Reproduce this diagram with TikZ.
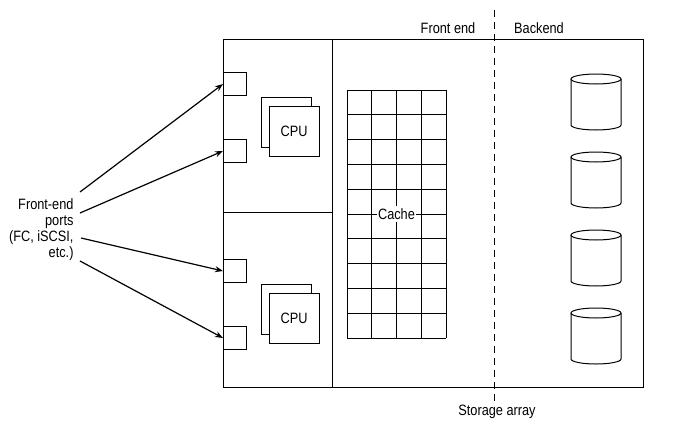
\documentclass[tikz,border=0pt]{standalone}
\usepackage{fontspec}
\setmainfont[FakeStretch=0.85]{Liberation Sans}
\usetikzlibrary{arrows.meta}

\tikzset{
	lbl/.style={inner sep=0,font=\fontsize{15}{17}\selectfont},
	port/.style={draw,inner sep=0,minimum size=23pt},
	cpu/.style={draw,fill=white,inner sep=0,minimum width=50pt,minimum height=50pt},
	arr/.style={-{Stealth[length=8pt,width=6pt]},line width=1.2pt}
}

\begin{document}
\begin{tikzpicture}[x=1pt,y=-1pt,line width=1pt]
	\useasboundingbox (0,0) rectangle (674,431);
	% storage array
	\draw (223,39) rectangle (643,387);
	\draw (332,39) -- (332,387);
	\draw (223,212) -- (332,212);
	\draw[dash pattern=on 7pt off 5pt] (494,10) -- (494,406);
	\node[lbl] (fe) at (448,28) {Front end};
	\node[lbl] (be) at (539,28) {Backend};
	\node[lbl] (sa) at (497,412) {Storage array};
	% ports
	\node[port] (p1) at (235,84) {};
	\node[port] (p2) at (235,151) {};
	\node[port] (p3) at (235,271) {};
	\node[port] (p4) at (235,338) {};
	% cpus
	\node[cpu] (c1b) at (286,122) {};
	\node[cpu] (c1) at (294,131) {\fontsize{15}{17}\selectfont CPU};
	\node[cpu] (c2b) at (286,309) {};
	\node[cpu] (c2) at (294,318) {\fontsize{15}{17}\selectfont CPU};
	% cache
	\foreach \i in {0,...,4}
		\draw (347+24.75*\i,90) -- (347+24.75*\i,338);
	\foreach \j in {0,...,10}
		\draw (347,90+24.8*\j) -- (446,90+24.8*\j);
	\node[lbl,fill=white,inner xsep=1pt,inner ysep=2pt] (cache) at (396.5,214) {Cache};
	% disks
	\foreach \t in {79,157,235,313} {
		\draw (571,\t) -- (571,\t+46) arc[start angle=180,end angle=360,x radius=25,y radius=-5] -- (621,\t);
		\draw (596,\t) ellipse[x radius=25,y radius=5];
	}
	% label and arrows
	\node[lbl,align=right,anchor=east] (fep) at (74,229.5) {Front-end\\[-1pt]ports\\[-1pt](FC, iSCSI,\\[-1pt]etc.)};
	\coordinate (a1) at (80,192);
	\coordinate (a2) at (80,213);
	\coordinate (a3) at (81,238);
	\coordinate (a4) at (80,261);
	\draw[arr] (a1) -- (p1.west);
	\draw[arr] (a2) -- (p2.west);
	\draw[arr] (a3) -- (p3.west);
	\draw[arr] (a4) -- (p4.west);
\end{tikzpicture}
\end{document}
